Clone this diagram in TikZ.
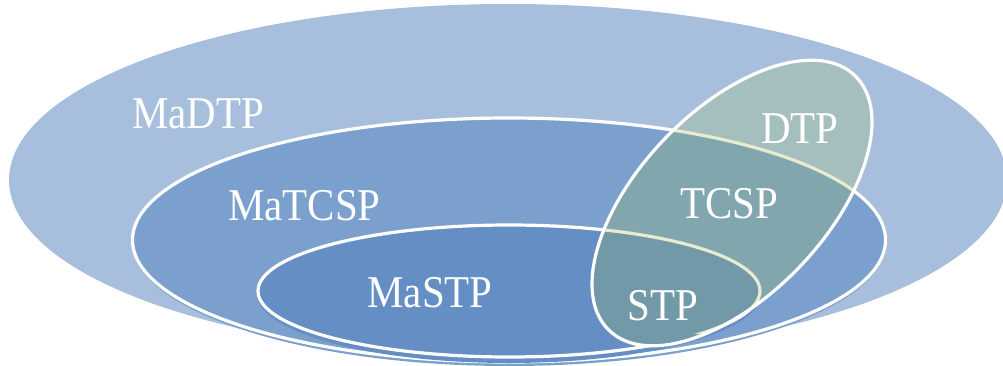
\documentclass[tikz,border=0pt]{standalone}
\usepackage{fontspec}
\setmainfont{Liberation Serif}[FakeStretch=0.9]
\definecolor{MaDTPblue}{RGB}{167,191,221}
\definecolor{MaTCSPblue}{RGB}{123,160,205}
\definecolor{MaSTPblue}{RGB}{101,143,196}
\definecolor{DTPtone}{RGB}{165,190,190}
\definecolor{TCSPtone}{RGB}{130,166,173}
\definecolor{STPtone}{RGB}{114,153,168}
\definecolor{SeamTint}{RGB}{230,236,205}

\begin{document}
\begin{tikzpicture}[
  x=1pt, y=1pt,
  font=\fontsize{45.5}{50}\selectfont,
  lbl/.style={text=white, anchor=base, inner sep=0pt},
  rim/.style={draw=white, line width=3.2pt},
  seam/.style={draw=SeamTint, line width=3.2pt},
  tilt/.style={rotate around={46:(732,162)}},
]
\clip (0,0) rectangle (1003,365);

% ============ NESTED SETS (left) ============
\fill[MaDTPblue] (508,185) ellipse [x radius=499, y radius=176];
\fill[MaTCSPblue] (509,123) ellipse [x radius=377, y radius=124];
\draw[rim] (509,125) ellipse [x radius=376.5, y radius=122];
\fill[MaSTPblue] (509,71) ellipse [x radius=252, y radius=69];
\draw[rim] (509,74) ellipse [x radius=251, y radius=66];

% ============ TILTED SET (right) ============
\begin{scope}
\clip[tilt] (732,162) ellipse [x radius=177, y radius=93];
\fill[DTPtone] (0,0) rectangle (1003,365);
\fill[TCSPtone] (509,123) ellipse [x radius=377, y radius=124];
\fill[STPtone] (509,71) ellipse [x radius=252, y radius=69];
% borders seen through the tilted set
\draw[seam] (509,125) ellipse [x radius=376.5, y radius=122];
\begin{scope}
\clip (0,32) rectangle (1003,365);
\draw[seam] (509,74) ellipse [x radius=251, y radius=66];
\end{scope}
\end{scope}
\draw[rim, tilt] (732,162) ellipse [x radius=177, y radius=93];

% ============ LABELS ============
\node[lbl] (madtp)  at (198,237)   {MaDTP};
\node[lbl] (matcsp) at (304.5,145) {MaTCSP};
\node[lbl] (mastp)  at (430,57.3)  {MaSTP};
\node[lbl] (dtp)    at (800,222)   {DTP};
\node[lbl] (tcsp)   at (729.5,146.7) {TCSP};
\node[lbl] (stp)    at (663,44.3)  {STP};

\end{tikzpicture}
\end{document}
